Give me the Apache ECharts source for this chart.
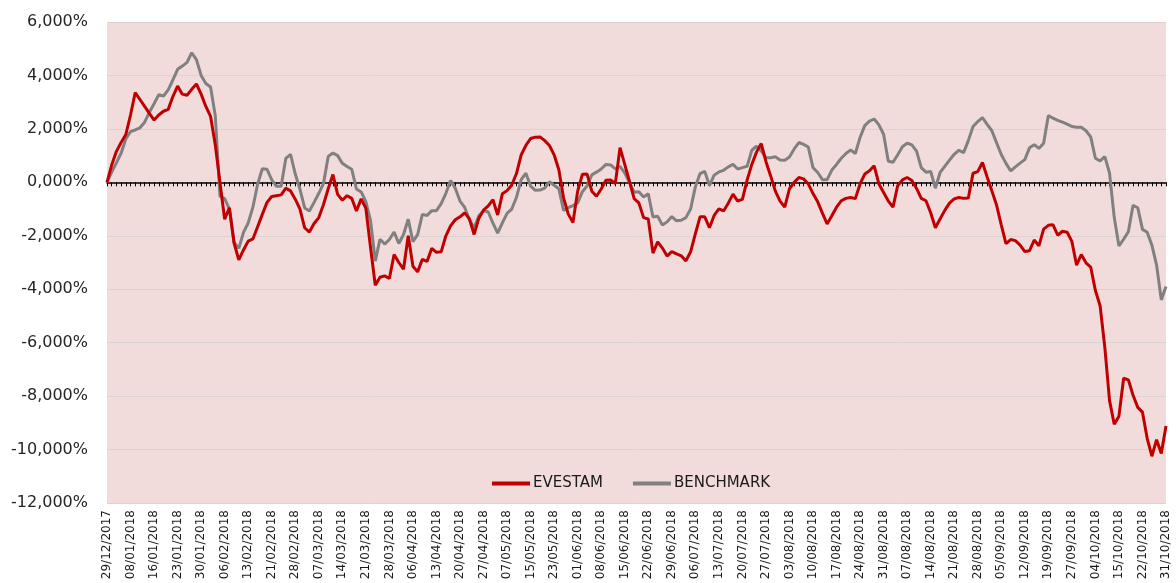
<!DOCTYPE html>
<html>
<head>
<meta charset="utf-8">
<script src="https://cdn.jsdelivr.net/npm/echarts@6/dist/echarts.min.js"></script>
<style>html,body{margin:0;padding:0;background:#fff;}#c{width:1176px;height:583px;}</style>
</head>
<body>
<div id="c"></div>
<script>
var tickLabels = ["29/12/2017","08/01/2018","16/01/2018","23/01/2018","30/01/2018","06/02/2018","13/02/2018","21/02/2018","28/02/2018","07/03/2018","14/03/2018","21/03/2018","28/03/2018","06/04/2018","13/04/2018","20/04/2018","27/04/2018","07/05/2018","15/05/2018","23/05/2018","01/06/2018","08/06/2018","15/06/2018","22/06/2018","29/06/2018","06/07/2018","13/07/2018","20/07/2018","27/07/2018","03/08/2018","10/08/2018","17/08/2018","24/08/2018","31/08/2018","07/08/2018","14/08/2018","21/08/2018","28/08/2018","05/09/2018","12/09/2018","19/09/2018","27/09/2018","04/10/2018","15/10/2018","22/10/2018","31/10/2018"];

var evestam = [0,0.65,1.16,1.49,1.79,2.52,3.36,3.1,2.84,2.58,2.33,2.52,2.66,2.73,3.21,3.6,3.3,3.26,3.48,3.68,
3.3,2.84,2.47,1.41,0,-1.38,-0.95,-2.27,-2.9,-2.53,-2.2,-2.12,-1.66,-1.2,-0.75,-0.53,-0.5,-0.47,-0.22,-0.32,
-0.63,-1.0,-1.7,-1.86,-1.54,-1.32,-0.83,-0.24,0.29,-0.45,-0.67,-0.5,-0.6,-1.07,-0.62,-0.97,-2.45,-3.85,-3.55,-3.5,
-3.6,-2.7,-3.0,-3.25,-2.0,-3.14,-3.35,-2.88,-2.96,-2.47,-2.62,-2.6,-2.0,-1.63,-1.4,-1.29,-1.14,-1.37,-1.95,-1.35,
-1.04,-0.88,-0.65,-1.22,-0.43,-0.31,-0.1,0.33,1.03,1.38,1.64,1.69,1.7,1.56,1.38,1.03,0.47,-0.58,-1.19,-1.5,
-0.33,0.3,0.31,-0.33,-0.52,-0.25,0.08,0.09,-0.05,1.3,0.67,0.04,-0.61,-0.77,-1.32,-1.37,-2.65,-2.23,-2.46,-2.76,
-2.59,-2.68,-2.75,-2.94,-2.6,-1.93,-1.29,-1.29,-1.7,-1.24,-0.99,-1.07,-0.78,-0.44,-0.7,-0.64,0.08,0.67,1.13,1.45,
0.78,0.24,-0.33,-0.7,-0.93,-0.24,0.0,0.18,0.13,-0.06,-0.42,-0.73,-1.15,-1.56,-1.25,-0.93,-0.69,-0.6,-0.57,-0.61,
-0.06,0.31,0.43,0.62,-0.06,-0.38,-0.7,-0.93,-0.12,0.09,0.18,0.07,-0.23,-0.6,-0.69,-1.14,-1.7,-1.37,-1.05,-0.78,
-0.62,-0.57,-0.6,-0.59,0.34,0.4,0.74,0.2,-0.32,-0.85,-1.59,-2.29,-2.14,-2.18,-2.35,-2.59,-2.56,-2.16,-2.38,-1.75,
-1.61,-1.59,-1.98,-1.83,-1.87,-2.21,-3.1,-2.7,-3.01,-3.17,-4.05,-4.62,-6.17,-8.16,-9.05,-8.75,-7.33,-7.39,-7.97,-8.42,
-8.6,-9.58,-10.25,-9.63,-10.15,-9.12];

var benchmark = [0,0.38,0.73,1.09,1.62,1.9,1.96,2.04,2.25,2.62,2.94,3.28,3.23,3.46,3.83,4.23,4.35,4.49,4.85,4.59,
4.0,3.7,3.57,2.5,-0.52,-0.61,-1.0,-2.25,-2.47,-1.87,-1.52,-0.93,-0.07,0.51,0.49,0.09,-0.15,-0.15,0.9,1.05,
0.31,-0.26,-0.96,-1.07,-0.75,-0.41,-0.04,0.97,1.1,1.0,0.71,0.59,0.49,-0.25,-0.36,-0.72,-1.44,-2.95,-2.13,-2.31,
-2.14,-1.86,-2.29,-1.95,-1.38,-2.22,-1.96,-1.2,-1.24,-1.06,-1.06,-0.8,-0.41,0.07,-0.22,-0.7,-0.94,-1.4,-1.7,-1.25,
-1.06,-1.11,-1.53,-1.9,-1.52,-1.16,-1.0,-0.56,0.1,0.34,-0.14,-0.3,-0.29,-0.22,0.02,-0.11,-0.24,-1.05,-0.95,-0.87,
-0.77,-0.35,-0.14,0.28,0.38,0.5,0.67,0.65,0.5,0.6,0.35,0.0,-0.37,-0.35,-0.55,-0.43,-1.3,-1.27,-1.6,-1.48,
-1.28,-1.44,-1.42,-1.32,-1.0,-0.17,0.33,0.41,-0.12,0.27,0.39,0.45,0.58,0.67,0.5,0.55,0.6,1.2,1.35,1.18,
0.92,0.92,0.96,0.84,0.83,0.95,1.25,1.49,1.42,1.32,0.55,0.37,0.1,0.1,0.46,0.67,0.9,1.08,1.21,1.08,
1.68,2.12,2.29,2.37,2.15,1.8,0.79,0.75,1.03,1.33,1.47,1.4,1.17,0.55,0.38,0.41,-0.22,0.37,0.6,0.83,
1.05,1.2,1.11,1.56,2.09,2.27,2.42,2.17,1.93,1.48,1.04,0.71,0.43,0.58,0.72,0.85,1.29,1.41,1.27,1.46,
2.5,2.4,2.32,2.25,2.18,2.09,2.06,2.06,1.93,1.7,0.9,0.8,0.96,0.35,-1.31,-2.38,-2.13,-1.85,-0.86,-0.95,
-1.76,-1.87,-2.35,-3.1,-4.4,-3.9];

var seriesNames = ["EVESTAM", "BENCHMARK"];
var yTicks = {min: -12, max: 6, step: 2};

var categories = [];
for (var i = 0; i < evestam.length; i++) {
  var k = Math.floor(i / 5), r = i % 5;
  categories.push(r === 0 ? tickLabels[k] : tickLabels[k] + ' +' + r);
}

var chart = echarts.init(document.getElementById('c'), null, {renderer: 'canvas'});
chart.setOption({
  animation: false,
  backgroundColor: '#ffffff',
  grid: {left: 107, right: 10, top: 22, bottom: 80, show: true, backgroundColor: '#F2DCDB', borderWidth: 0},
  legend: {
    left: 487, top: 471, icon: 'rect', itemWidth: 38, itemHeight: 4, itemGap: 30,
    textStyle: {fontFamily: 'DejaVu Sans', fontSize: 15, color: '#1a1a1a', padding: [0,0,0,-2]},
    data: seriesNames
  },
  xAxis: [
    {
      type: 'category', data: categories, boundaryGap: false, position: 'bottom',
      axisLine: {show: false, onZero: false}, axisTick: {show: false},
      axisLabel: {interval: 4, rotate: 90, margin: 7, fontFamily: 'DejaVu Sans', fontSize: 12, color: '#1a1a1a'},
      splitLine: {show: false}
    },
    {
      type: 'category', data: categories, boundaryGap: false, position: 'bottom',
      axisLine: {show: true, onZero: true, onZeroAxisIndex: 0, lineStyle: {color: '#000', width: 1.5}},
      axisTick: {show: true, interval: 0, length: 4, lineStyle: {color: '#000', width: 1}},
      axisLabel: {show: false}, splitLine: {show: false}
    }
  ],
  yAxis: {
    type: 'value', min: yTicks.min, max: yTicks.max, interval: yTicks.step,
    axisLine: {show: false}, axisTick: {show: false},
    splitLine: {show: true, lineStyle: {color: '#DCD2D2', width: 1}},
    axisLabel: {
      margin: 19, fontFamily: 'DejaVu Sans', fontSize: 16, color: '#262626',
      formatter: function (v) { return v.toFixed(3).replace('.', ',') + '%'; }
    }
  },
  series: [
    {name: seriesNames[0], type: 'line', data: evestam, xAxisIndex: 0, showSymbol: false, symbol: 'none',
      lineStyle: {color: '#C00000', width: 3}, itemStyle: {color: '#C00000'}, z: 3},
    {name: seriesNames[1], type: 'line', data: benchmark, xAxisIndex: 0, showSymbol: false, symbol: 'none',
      lineStyle: {color: '#808080', width: 3}, itemStyle: {color: '#808080'}, z: 2}
  ]
});
</script>
</body>
</html>
